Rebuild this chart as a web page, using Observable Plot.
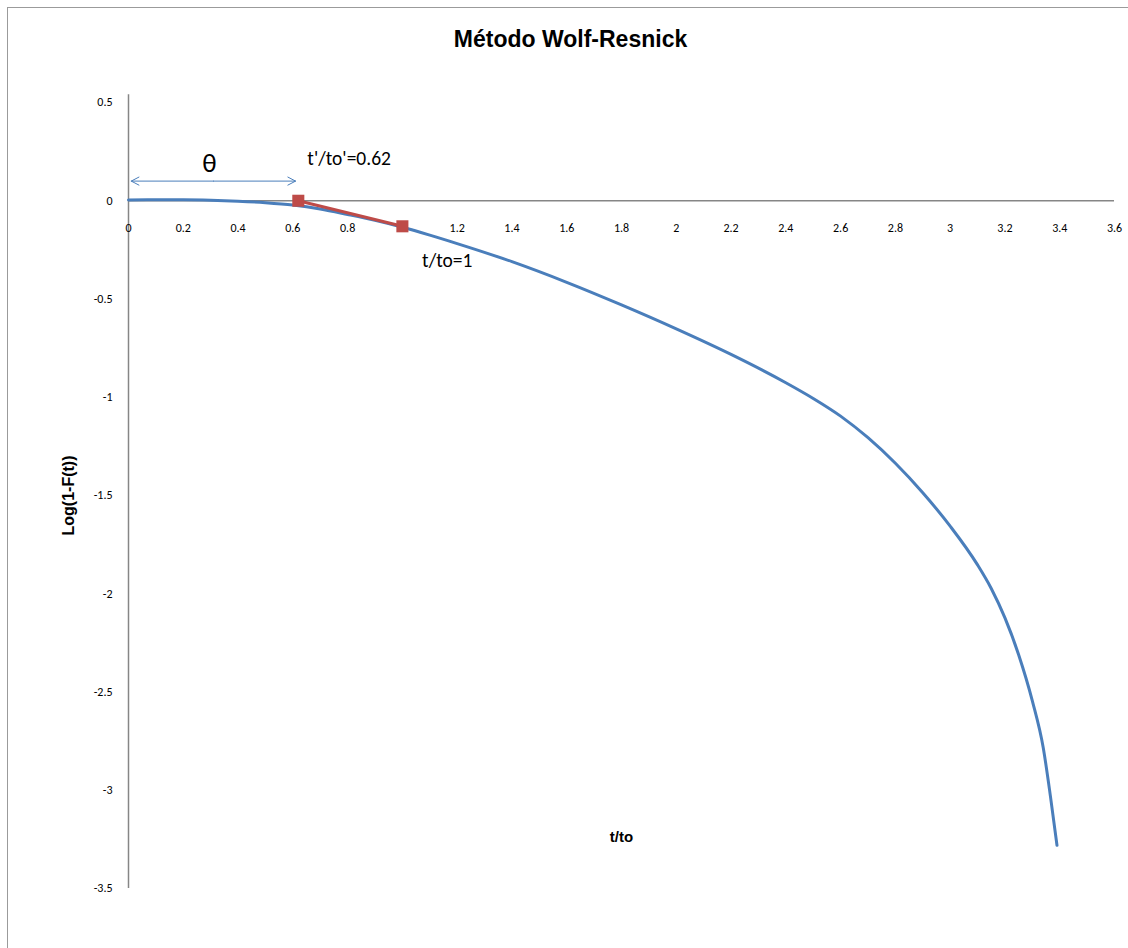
<!DOCTYPE html>
<html>
<head>
<meta charset="utf-8">
<script src="https://cdn.jsdelivr.net/npm/d3@7"></script>
<script src="https://cdn.jsdelivr.net/npm/@observablehq/plot@0.6"></script>
<style>
  html, body { margin: 0; padding: 0; background: #fff; }
  #wrap { position: relative; width: 1128px; height: 948px; overflow: hidden; }
  #frame { position: absolute; left: 7px; top: 7px; right: -10px; bottom: -10px;
           border-left: 1.5px solid #9b9b9b; border-top: 1.5px solid #9b9b9b; pointer-events: none; }
</style>
</head>
<body>
<div id="wrap"><div id="frame"></div></div>
<script>
// Blue series: t/to vs Log(1-F(t))
const tValues   = [0, 0.1, 0.2, 0.3, 0.4, 0.5, 0.6, 0.7, 0.8, 0.9, 1.0, 1.1, 1.2, 1.4, 1.6, 1.8, 2.0, 2.2, 2.4, 2.5, 2.6, 2.7, 2.8, 2.9, 3.0, 3.1, 3.15, 3.2, 3.25, 3.3, 3.34, 3.366, 3.39];
const logValues = [0.004, 0.005, 0.005, 0.003, -0.002, -0.01, -0.022, -0.042, -0.07, -0.1, -0.135, -0.175, -0.218, -0.31, -0.415, -0.53, -0.652, -0.782, -0.926, -1.006, -1.096, -1.206, -1.336, -1.486, -1.656, -1.853, -1.973, -2.123, -2.31, -2.545, -2.785, -3.03, -3.28];
// Red series (tangent segment)
const redT   = [0.62, 1];
const redLog = [0, -0.13];
// Ticks
const xTicks = [0, 0.2, 0.4, 0.6, 0.8, 1, 1.2, 1.4, 1.6, 1.8, 2, 2.2, 2.4, 2.6, 2.8, 3, 3.2, 3.4, 3.6];
const yTicks = [0.5, 0, -0.5, -1, -1.5, -2, -2.5, -3, -3.5];
// Theta arrow span
const thetaStart = 0.01, thetaEnd = 0.61, thetaLevel = 0.10;

const blue = tValues.map((t, i) => ({t, v: logValues[i]}));
const red = redT.map((t, i) => ({t, v: redLog[i]}));
const thetaMid = (thetaStart + thetaEnd) / 2;

const tickFont = "Carlito, Lato, 'Open Sans', sans-serif";
const boldFont = "'Liberation Sans', Arial, sans-serif";

const chart = Plot.plot({
  width: 1128,
  height: 948,
  marginLeft: 128,
  marginRight: 14,
  marginTop: 102,
  marginBottom: 60,
  style: {fontFamily: tickFont, background: "transparent", color: "#000"},
  x: {domain: [0, 3.6], axis: null},
  y: {domain: [-3.5, 0.5], axis: null},
  marks: [
    Plot.ruleY([0], {stroke: "#868686", strokeWidth: 1.5}),
    Plot.ruleX([0], {stroke: "#868686", strokeWidth: 1.5, y1: 0.54, y2: -3.5}),
    Plot.axisY({ticks: yTicks, tickSize: 0, tickPadding: 16, tickFormat: d => String(d), fontSize: 12, fill: "#000", label: null}),
    Plot.text(xTicks, {x: d => d, y: 0, dy: 27, text: d => String(d), fontSize: 12, fill: "#000"}),
    Plot.line(blue, {x: "t", y: "v", stroke: "#4a7ebb", strokeWidth: 3, curve: "monotone-x"}),
    Plot.line(red, {x: "t", y: "v", stroke: "#be4b48", strokeWidth: 3}),
    Plot.dot(red, {x: "t", y: "v", symbol: "square", r: 6.8, fill: "#be4b48", stroke: "none"}),
    Plot.arrow([0], {x1: thetaMid, x2: thetaStart, y1: thetaLevel, y2: thetaLevel, stroke: "#4a7ebb", strokeWidth: 1, headLength: 13, headAngle: 55}),
    Plot.arrow([0], {x1: thetaMid, x2: thetaEnd, y1: thetaLevel, y2: thetaLevel, stroke: "#4a7ebb", strokeWidth: 1, headLength: 13, headAngle: 55}),
    Plot.text(["θ"], {x: 0.295, y: 0.19, text: d => d, fontSize: 27, fill: "#000", fontFamily: tickFont}),
    Plot.text(["t'/to'=0.62"], {x: 0.653, y: 0.215, text: d => d, textAnchor: "start", fontSize: 19.5, fill: "#000"}),
    Plot.text(["t/to=1"], {x: 1.072, y: -0.305, text: d => d, textAnchor: "start", fontSize: 19.5, fill: "#000"}),
    Plot.text(["Método Wolf-Resnick"], {frameAnchor: "top", lineAnchor: "middle", dx: -51, dy: -63, text: d => d, fontSize: 23, fontWeight: "bold", fontFamily: boldFont, fill: "#000"}),
    Plot.text(["Log(1-F(t))"], {frameAnchor: "left", textAnchor: "middle", lineAnchor: "middle", dx: -60, dy: 0, rotate: -90, text: d => d, fontSize: 16, fontWeight: "bold", fontFamily: boldFont, fill: "#000"}),
    Plot.text(["t/to"], {frameAnchor: "bottom", lineAnchor: "middle", dy: -51, text: d => d, fontSize: 15, fontWeight: "bold", fontFamily: boldFont, fill: "#000"})
  ]
});
chart.style.position = "absolute";
chart.style.left = "0px";
chart.style.top = "0px";
document.getElementById("wrap").prepend(chart);
</script>
</body>
</html>
